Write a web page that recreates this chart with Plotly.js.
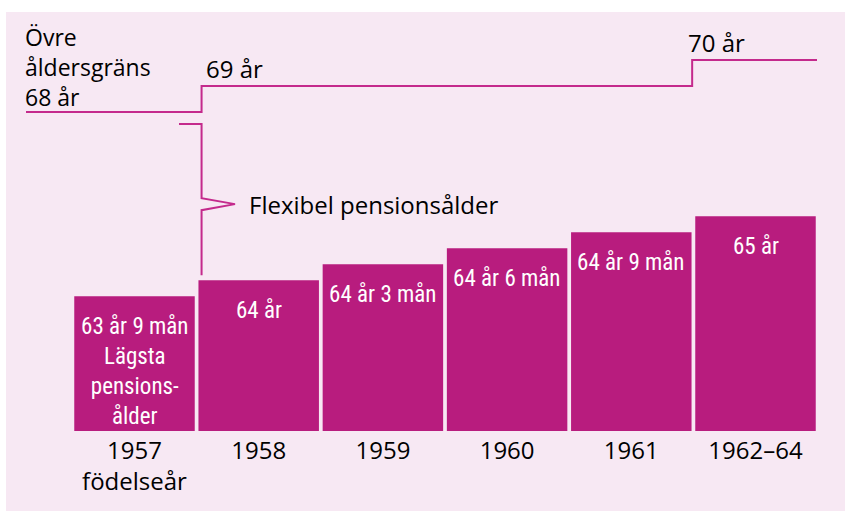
<!DOCTYPE html>
<html>
<head>
<meta charset="utf-8">
<script src="https://cdn.plot.ly/plotly-3.0.1.min.js"></script>
<style>
  html, body { margin: 0; padding: 0; background: #ffffff; }
  #chart { position: absolute; left: 6px; top: 12px; width: 839px; height: 499px; }
  g.annotation text[style*="rgb(255, 255, 255)"] { font-stretch: condensed; }
</style>
</head>
<body>
<div id="chart"></div>
<script>
// ---- data ----
const cohorts = ['1957<br>födelseår', '1958', '1959', '1960', '1961', '1962–64'];
const minAge = [63.75, 64, 64.25, 64.5, 64.75, 65];
const minAgeLabels = ['63 år 9 mån<br>Lägsta<br>pensions-<br>ålder', '64 år', '64 år 3 mån', '64 år 6 mån', '64 år 9 mån', '65 år'];
const upperAge = [68, 69, 69, 69, 69, 70];
const upperTitle = 'Övre<br>åldersgräns<br>68 år';
const upperStepLabels = ['69 år', '70 år'];
const flexLabel = 'Flexibel pensionsålder';

// ---- layout geometry ----
const W = 839, PLOTH = 418.7;
const X0 = 128.5, DX = 124.2;
const xr = [-X0 / DX, (W - X0) / DX];
const px2x = p => (p - X0) / DX;
const px2py = p => (PLOTH - p) / PLOTH;
const ppx = p => p / W;
const stepAdj = [0.04, -0.01];

const BAR = '#b81c7e', LINE = '#c42a8c', BG = '#f7e8f3';
const TXT = '#000000';
const FONT = 'Open Sans, Noto Sans, sans-serif';
const NARROW = 'Roboto, Noto Sans, sans-serif';
const FS = 24;
const FW = 500;

const idx = cohorts.map((c, i) => i);

// step line for upper age limit
const stepX = [px2x(20)], stepY = [upperAge[0]];
let k = 0;
for (let i = 1; i < upperAge.length; i++) {
  if (upperAge[i] !== upperAge[i - 1]) { stepX.push(i - 0.5 + stepAdj[k++]); stepY.push(upperAge[i]); }
}
stepX.push(px2x(811)); stepY.push(upperAge[upperAge.length - 1]);

const traces = [
  {
    type: 'bar', x: idx, y: minAge, width: 0.97,
    marker: { color: BAR, line: { width: 0 } },
    hoverinfo: 'skip'
  },
  {
    type: 'scatter', mode: 'lines', x: stepX, y: stepY, yaxis: 'y2',
    line: { shape: 'hv', color: LINE, width: 2 }, hoverinfo: 'skip'
  }
];

const sx = stepX[1];
const bx = p => px2x(p);
const bracketPath = 'M ' + bx(173) + ' ' + px2py(112) +
  ' L ' + sx + ' ' + px2py(112) +
  ' L ' + sx + ' ' + px2py(186) +
  ' L ' + bx(229) + ' ' + px2py(192) +
  ' L ' + sx + ' ' + px2py(198) +
  ' L ' + sx + ' ' + px2py(263);

const annotations = [];
minAgeLabels.forEach((t, i) => {
  annotations.push({
    x: i, y: minAge[i], xref: 'x', yref: 'y', text: t, showarrow: false,
    xanchor: 'center', yanchor: 'top', yshift: -15, align: 'center',
    font: { family: NARROW, size: 23, color: '#ffffff' }
  });
});
annotations.push({
  x: ppx(18), y: px2py(55), xref: 'paper', yref: 'paper', text: upperTitle,
  showarrow: false, xanchor: 'left', yanchor: 'middle', align: 'left', borderpad: 0,
  font: { family: FONT, size: 23, color: TXT, weight: FW }
});
annotations.push({
  x: ppx(198), y: px2py(56), xref: 'paper', yref: 'paper', text: upperStepLabels[0],
  showarrow: false, xanchor: 'left', yanchor: 'middle',
  font: { family: FONT, size: FS, color: TXT, weight: FW }
});
annotations.push({
  x: ppx(680), y: px2py(30), xref: 'paper', yref: 'paper', text: upperStepLabels[1],
  showarrow: false, xanchor: 'left', yanchor: 'middle',
  font: { family: FONT, size: FS, color: TXT, weight: FW }
});
annotations.push({
  x: ppx(241), y: px2py(192), xref: 'paper', yref: 'paper', text: flexLabel,
  showarrow: false, xanchor: 'left', yanchor: 'middle',
  font: { family: FONT, size: FS, color: TXT, weight: FW }
});

const layout = {
  width: 839, height: 499,
  margin: { l: 0, r: 0, t: 0, b: 499 - PLOTH, pad: 0 },
  paper_bgcolor: BG, plot_bgcolor: BG,
  showlegend: false,
  xaxis: {
    range: xr, tickmode: 'array', tickvals: idx, ticktext: cohorts,
    showgrid: false, zeroline: false, showline: false, ticks: '',
    ticklabelstandoff: 3,
    tickfont: { family: FONT, size: FS, color: TXT, weight: FW }, fixedrange: true
  },
  yaxis: {
    range: [61.645, 68.1875], visible: false, showgrid: false, zeroline: false, fixedrange: true
  },
  yaxis2: {
    overlaying: 'y', range: [68 - (PLOTH - 100) / 26, 70 + 48 / 26],
    visible: false, showgrid: false, zeroline: false, fixedrange: true
  },
  shapes: [{
    type: 'path', xref: 'x', yref: 'paper', path: bracketPath,
    line: { color: LINE, width: 2 }
  }],
  annotations: annotations
};

Plotly.newPlot('chart', traces, layout, { staticPlot: true, displayModeBar: false });
</script>
</body>
</html>
